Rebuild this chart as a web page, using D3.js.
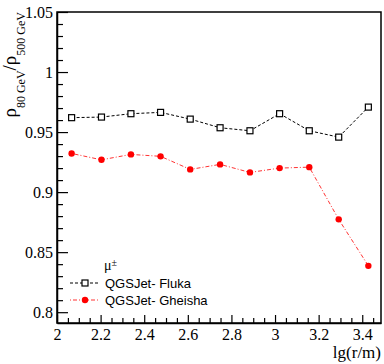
<!DOCTYPE html>
<html>
<head>
<meta charset="utf-8">
<script src="https://cdn.jsdelivr.net/npm/d3@7"></script>
<style>
  body { margin: 0; background: #fff; }
  svg { display: block; }
</style>
</head>
<body>
<svg id="chart" width="384" height="364"></svg>
<script>
// data
const lgR = [2.067, 2.204, 2.339, 2.475, 2.611, 2.748, 2.885, 3.021, 3.157, 3.292, 3.428];
const flukaRatio = [0.962, 0.9625, 0.9653, 0.9664, 0.9608, 0.9536, 0.9511, 0.9653, 0.9511, 0.9458, 0.9708];
const gheishaRatio = [0.9322, 0.9269, 0.9314, 0.9298, 0.9189, 0.9231, 0.9164, 0.920, 0.9208, 0.8773, 0.8386];
const xTicks = [2, 2.2, 2.4, 2.6, 2.8, 3, 3.2, 3.4];
const yTicks = [0.8, 0.85, 0.9, 0.95, 1, 1.05];
const seriesNames = ["QGSJet- Fluka", "QGSJet- Gheisha"];

const svg = d3.select("#chart");
const m = { left: 57, right: 381, top: 12, bottom: 323 };

const x = d3.scaleLinear().domain([2, 3.486]).range([m.left, m.right]);
const y = d3.scaleLinear().domain([0.791, 1.05]).range([m.bottom, m.top]);

const serif = "'Liberation Serif', 'DejaVu Serif', serif";
const sans = "'Liberation Sans', Arial, sans-serif";

// 框
svg.append("rect")
  .attr("x", m.left).attr("y", m.top)
  .attr("width", m.right - m.left).attr("height", m.bottom - m.top)
  .attr("fill", "none").attr("stroke", "#000").attr("stroke-width", 1.5);

// x axis (ticks inside)
const xMinor = d3.range(2, 3.487, 0.05).filter(v => !xTicks.some(t => Math.abs(t - v) < 1e-6));
svg.append("g").attr("transform", `translate(0,${m.bottom})`)
  .call(d3.axisBottom(x).tickValues(xTicks).tickSize(-8).tickSizeOuter(0)
    .tickFormat(d3.format("")).tickPadding(6));
svg.append("g").attr("transform", `translate(0,${m.bottom})`)
  .call(d3.axisBottom(x).tickValues(xMinor).tickSize(-5).tickSizeOuter(0).tickFormat(""))
  .select(".domain").remove();

// y axis
const yMinor = d3.range(0.8, 1.05, 0.01).filter(v => !yTicks.some(t => Math.abs(t - v) < 1e-6));
svg.append("g").attr("transform", `translate(${m.left},0)`)
  .call(d3.axisLeft(y).tickValues(yTicks).tickSize(-11).tickSizeOuter(0)
    .tickFormat(d3.format("")).tickPadding(4));
svg.append("g").attr("transform", `translate(${m.left},0)`)
  .call(d3.axisLeft(y).tickValues(yMinor).tickSize(-6).tickSizeOuter(0).tickFormat(""))
  .select(".domain").remove();

svg.selectAll(".tick line").attr("stroke", "#000").attr("stroke-width", 1.2);
svg.selectAll(".domain").attr("stroke", "#000").attr("stroke-width", 1.5);
svg.selectAll(".tick text")
  .style("font-family", serif).style("font-size", "16px").attr("fill", "#000");

// axis titles
svg.append("text")
  .attr("x", m.right).attr("y", 358)
  .attr("text-anchor", "end")
  .style("font-family", serif).style("font-size", "17px")
  .text("lg(r/m)");

const yTitle = svg.append("text")
  .attr("transform", "translate(16,12) rotate(-90)")
  .attr("text-anchor", "end")
  .style("font-family", serif).style("font-size", "19px");
yTitle.append("tspan").text("ρ");
yTitle.append("tspan").style("font-size", "12px").attr("dy", 9).text("80 GeV");
yTitle.append("tspan").attr("dy", -9).text("/ρ");
yTitle.append("tspan").style("font-size", "12px").attr("dy", 9).text("500 GeV");

// series
const line = d3.line().x(d => x(d[0])).y(d => y(d[1]));
const fluka = lgR.map((v, i) => [v, flukaRatio[i]]);
const gheisha = lgR.map((v, i) => [v, gheishaRatio[i]]);

svg.append("path").datum(fluka)
  .attr("d", line).attr("fill", "none")
  .attr("stroke", "#000").attr("stroke-width", 1).attr("stroke-dasharray", "3,2");
svg.append("path").datum(gheisha)
  .attr("d", line).attr("fill", "none")
  .attr("stroke", "#f33").attr("stroke-width", 1).attr("stroke-dasharray", "1,2,4,2");

svg.append("g").selectAll("rect").data(fluka).join("rect")
  .attr("x", d => x(d[0]) - 3).attr("y", d => y(d[1]) - 3)
  .attr("width", 6).attr("height", 6)
  .attr("fill", "#fff").attr("stroke", "#000").attr("stroke-width", 1.2);
svg.append("g").selectAll("circle").data(gheisha).join("circle")
  .attr("cx", d => x(d[0])).attr("cy", d => y(d[1]))
  .attr("r", 3.2).attr("fill", "#f00");

// legend
const lg = svg.append("g");
lg.append("text").attr("x", 104).attr("y", 270)
  .style("font-family", serif).style("font-size", "14px").text("μ")
  .append("tspan").style("font-size", "10px").attr("dy", -4).text("±");

lg.append("line").attr("x1", 70).attr("x2", 99).attr("y1", 283).attr("y2", 283)
  .attr("stroke", "#000").attr("stroke-dasharray", "3,2");
lg.append("rect").attr("x", 82).attr("y", 280).attr("width", 6).attr("height", 6)
  .attr("fill", "#fff").attr("stroke", "#000").attr("stroke-width", 1.2);
lg.append("line").attr("x1", 70).attr("x2", 99).attr("y1", 300).attr("y2", 300)
  .attr("stroke", "#f33").attr("stroke-dasharray", "1,2,4,2");
lg.append("circle").attr("cx", 85).attr("cy", 300).attr("r", 3.2).attr("fill", "#f00");

lg.selectAll("text.name").data(seriesNames).join("text")
  .attr("class", "name")
  .attr("x", 105).attr("y", (d, i) => 288 + i * 17)
  .style("font-family", sans).style("font-size", "13px")
  .text(d => d);
</script>
</body>
</html>
